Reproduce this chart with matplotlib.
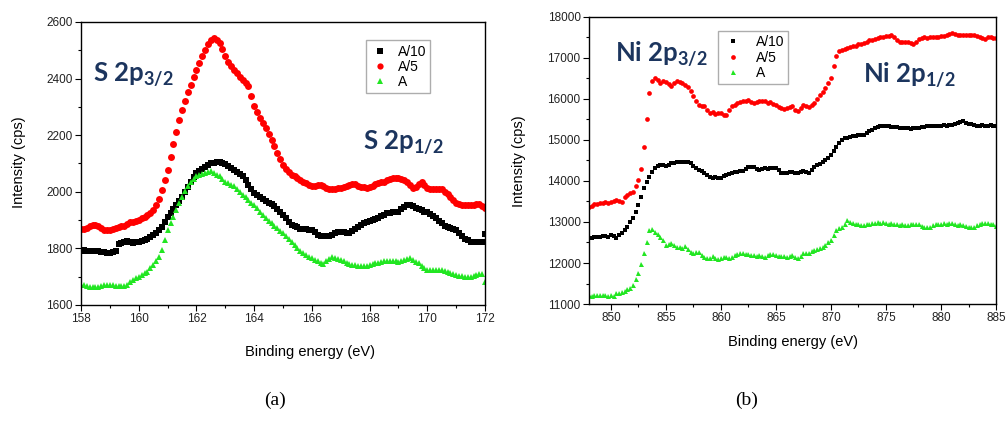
import numpy as np
import matplotlib.pyplot as plt
from matplotlib.ticker import MultipleLocator

plt.rcParams['font.family'] = ['Liberation Sans', 'DejaVu Sans']
plt.rcParams['mathtext.fontset'] = 'custom'
plt.rcParams['mathtext.rm'] = 'Lato:bold'
plt.rcParams['mathtext.it'] = 'Lato:bold'
plt.rcParams['mathtext.bf'] = 'Lato:bold'

# ---- (a) S 2p region, 158-172 eV, 0.1 eV step ----
e_s = np.round(np.arange(158.0, 172.05, 0.1), 1)

s_a10 = [1792, 1794, 1792, 1790, 1792, 1792, 1790, 1788, 1786, 1785,
         1785, 1787, 1789, 1815, 1820, 1824, 1826, 1822, 1820, 1822,
         1824, 1826, 1829, 1832, 1840, 1848, 1856, 1865, 1875, 1894,
         1912, 1926, 1940, 1954, 1968, 1983, 2000, 2018, 2036, 2051,
         2066, 2074, 2082, 2089, 2096, 2101, 2103, 2104, 2104, 2102,
         2099, 2092, 2085, 2078, 2070, 2062, 2054, 2040, 2025, 2010,
         1995, 1988, 1981, 1974, 1968, 1962, 1957, 1948, 1938, 1928,
         1918, 1906, 1894, 1883, 1878, 1874, 1870, 1869, 1868, 1866,
         1865, 1857, 1849, 1842, 1842, 1843, 1844, 1849, 1854, 1859,
         1858, 1857, 1856, 1856, 1863, 1870, 1877, 1882, 1888, 1893,
         1897, 1900, 1904, 1907, 1913, 1919, 1924, 1926, 1928, 1929,
         1930, 1938, 1946, 1954, 1952, 1950, 1944, 1939, 1934, 1930,
         1927, 1920, 1913, 1907, 1898, 1889, 1880, 1876, 1872, 1868,
         1865, 1854, 1843, 1832, 1828, 1824, 1821, 1821, 1821, 1821,
         1850]

s_a5 = [1868, 1870, 1872, 1878, 1882, 1883, 1878, 1872, 1866, 1864,
        1865, 1868, 1872, 1876, 1878, 1880, 1886, 1892, 1894, 1896,
        1900, 1906, 1912, 1918, 1926, 1936, 1952, 1975, 2007, 2042,
        2078, 2124, 2170, 2212, 2252, 2290, 2322, 2352, 2378, 2405,
        2431, 2456, 2480, 2502, 2522, 2537, 2543, 2538, 2525, 2504,
        2478, 2460, 2444, 2431, 2418, 2405, 2396, 2386, 2372, 2338,
        2302, 2282, 2262, 2243, 2224, 2204, 2184, 2160, 2137, 2116,
        2095, 2082, 2070, 2060, 2054, 2048, 2042, 2036, 2030, 2024,
        2019, 2022, 2025, 2025, 2020, 2014, 2010, 2009, 2010, 2012,
        2013, 2016, 2020, 2024, 2027, 2027, 2022, 2018, 2016, 2015,
        2016, 2022, 2028, 2032, 2034, 2036, 2040, 2044, 2047, 2048,
        2048, 2044, 2040, 2036, 2024, 2013, 2018, 2028, 2033, 2024,
        2013, 2010, 2010, 2011, 2010, 2009, 2000, 1992, 1983, 1972,
        1960, 1956, 1954, 1954, 1955, 1954, 1955, 1957, 1957, 1950,
        1942]

s_a = [1671, 1670, 1668, 1665, 1663, 1662, 1664, 1667, 1669, 1671,
       1671, 1670, 1668, 1666, 1666, 1667, 1672, 1680, 1688, 1694,
       1700, 1706, 1712, 1718, 1730, 1742, 1756, 1771, 1795, 1830,
       1865, 1888, 1912, 1936, 1960, 1983, 2001, 2019, 2036, 2045,
       2054, 2058, 2062, 2066, 2071, 2075, 2068, 2061, 2054, 2045,
       2036, 2030, 2025, 2019, 2009, 1999, 1989, 1980, 1971, 1962,
       1954, 1942, 1930, 1918, 1908, 1898, 1889, 1880, 1871, 1862,
       1854, 1844, 1834, 1824, 1812, 1800, 1789, 1783, 1777, 1771,
       1765, 1760, 1755, 1750, 1745, 1754, 1763, 1771, 1767, 1763,
       1759, 1755, 1750, 1746, 1742, 1740, 1738, 1737, 1736, 1739,
       1742, 1745, 1747, 1750, 1753, 1755, 1757, 1756, 1755, 1754,
       1753, 1756, 1759, 1762, 1765, 1759, 1753, 1747, 1739, 1731,
       1724, 1724, 1724, 1725, 1724, 1724, 1720, 1716, 1712, 1709,
       1706, 1704, 1702, 1700, 1699, 1698, 1702, 1706, 1710, 1711,
       1680]

# ---- (b) Ni 2p region, 848-885 eV, 0.25 eV step ----
e_ni = np.arange(848.0, 885.01, 0.25)

ni_a10 = [12603, 12620, 12640, 12630, 12627, 12650, 12660, 12640,
          12676, 12650, 12603, 12680, 12725, 12800, 12888, 12990,
          13091, 13250, 13417, 13620, 13823, 13980, 14108, 14220,
          14312, 14370, 14393, 14380, 14377, 14400, 14434, 14450,
          14475, 14460, 14458, 14470, 14475, 14430, 14369, 14320,
          14271, 14240, 14206, 14150, 14108, 14080, 14090, 14070,
          14068, 14110, 14149, 14170, 14190, 14220, 14210, 14240,
          14255, 14300, 14352, 14345, 14336, 14300, 14271, 14290,
          14312, 14300, 14320, 14310, 14312, 14260, 14206, 14190,
          14190, 14210, 14230, 14200, 14190, 14220, 14255, 14230,
          14206, 14280, 14352, 14390, 14417, 14460, 14515, 14570,
          14637, 14740, 14840, 14930, 15003, 15040, 15060, 15070,
          15085, 15100, 15110, 15120, 15125, 15170, 15207, 15250,
          15288, 15320, 15330, 15340, 15345, 15330, 15320, 15315,
          15312, 15300, 15290, 15295, 15288, 15270, 15280, 15290,
          15288, 15310, 15320, 15330, 15329, 15340, 15330, 15340,
          15345, 15360, 15350, 15360, 15370, 15400, 15420, 15440,
          15451, 15420, 15400, 15380, 15370, 15340, 15350, 15360,
          15345, 15330, 15360, 15340, 15345]

ni_a5 = [13360, 13400, 13430, 13450, 13457, 13470, 13480, 13470,
         13498, 13520, 13539, 13510, 13498, 13600, 13661, 13700,
         13742, 13880, 14027, 14300, 14840, 15500, 16142, 16440,
         16508, 16460, 16386, 16430, 16403, 16360, 16321, 16380,
         16427, 16410, 16386, 16340, 16289, 16200, 16061, 15950,
         15858, 15840, 15817, 15720, 15654, 15680, 15640, 15660,
         15654, 15620, 15614, 15720, 15817, 15860, 15900, 15920,
         15939, 15960, 15980, 15930, 15898, 15920, 15939, 15960,
         15939, 15900, 15920, 15880, 15858, 15810, 15776, 15760,
         15776, 15800, 15817, 15740, 15695, 15790, 15858, 15820,
         15800, 15850, 15898, 16000, 16101, 16180, 16264, 16380,
         16508, 16800, 17040, 17160, 17200, 17230, 17250, 17270,
         17282, 17300, 17330, 17350, 17363, 17400, 17430, 17450,
         17460, 17480, 17500, 17510, 17526, 17540, 17566, 17500,
         17444, 17400, 17379, 17390, 17379, 17360, 17347, 17400,
         17460, 17480, 17500, 17490, 17509, 17500, 17520, 17515,
         17526, 17540, 17560, 17590, 17607, 17580, 17560, 17570,
         17566, 17550, 17560, 17570, 17566, 17530, 17500, 17480,
         17460, 17500, 17520, 17480, 17485]

ni_a = [11220, 11200, 11210, 11230, 11220, 11210, 11230, 11200,
        11220, 11190, 11260, 11280, 11301, 11320, 11358, 11400,
        11464, 11600, 11749, 11980, 12237, 12520, 12806, 12823,
        12766, 12700, 12644, 12560, 12440, 12460, 12481, 12430,
        12400, 12380, 12359, 12420, 12334, 12280, 12237, 12260,
        12277, 12200, 12155, 12130, 12115, 12160, 12130, 12100,
        12115, 12140, 12155, 12130, 12155, 12200, 12230, 12250,
        12237, 12210, 12230, 12200, 12196, 12170, 12190, 12175,
        12155, 12190, 12220, 12210, 12196, 12170, 12180, 12160,
        12155, 12180, 12196, 12150, 12115, 12180, 12237, 12240,
        12253, 12290, 12310, 12330, 12359, 12400, 12440, 12500,
        12562, 12690, 12806, 12850, 12888, 12960, 13050, 12990,
        12969, 12940, 12950, 12930, 12928, 12950, 12960, 12975,
        12969, 13000, 12980, 12990, 12985, 12960, 12970, 12940,
        12953, 12930, 12945, 12920, 12928, 12950, 12960, 12940,
        12953, 12910, 12888, 12870, 12888, 12920, 12950, 12940,
        12953, 12980, 12960, 12970, 12969, 12940, 12930, 12950,
        12928, 12900, 12880, 12871, 12871, 12920, 12960, 12985,
        12985, 12970, 12940, 12960, 12904]

labels = ['A/10', 'A/5', 'A']
colors = ['black', '#ff0000', '#22e622']
navy = '#1c355e'

fig = plt.figure(figsize=(10.08, 4.24), dpi=100)
ax1 = fig.add_axes([0.0804, 0.2807, 0.4008, 0.6675])
ax2 = fig.add_axes([0.5843, 0.2830, 0.4038, 0.6770])

ax1.plot(e_s, s_a10, 's', color=colors[0], ms=4.6, mew=0, label=labels[0])
ax1.plot(e_s, s_a5, 'o', color=colors[1], ms=5.0, mew=0, label=labels[1])
ax1.plot(e_s, s_a, '^', color=colors[2], ms=5.0, mew=0, label=labels[2])
ax1.set_xlim(158, 172)
ax1.set_ylim(1600, 2600)
ax1.xaxis.set_major_locator(MultipleLocator(2))
ax1.xaxis.set_minor_locator(MultipleLocator(1))
ax1.yaxis.set_major_locator(MultipleLocator(200))
ax1.yaxis.set_minor_locator(MultipleLocator(100))

ax2.plot(e_ni, ni_a10, 's', color=colors[0], ms=3.2, mew=0, label=labels[0])
ax2.plot(e_ni, ni_a5, 'o', color=colors[1], ms=3.4, mew=0, label=labels[1])
ax2.plot(e_ni, ni_a, '^', color=colors[2], ms=3.6, mew=0, label=labels[2])
ax2.set_xlim(848, 885)
ax2.set_ylim(11000, 18000)
ax2.xaxis.set_major_locator(MultipleLocator(5))
ax2.xaxis.set_minor_locator(MultipleLocator(2.5))
ax2.yaxis.set_major_locator(MultipleLocator(1000))
ax2.yaxis.set_minor_locator(MultipleLocator(500))

for ax in (ax1, ax2):
    ax.tick_params(which='major', length=4, width=0.8, labelsize=8.5, pad=2,
                   labelcolor='#222222')
    ax.tick_params(which='minor', length=2.5, width=0.8)
    for sp in ax.spines.values():
        sp.set_linewidth(1.0)

leg1 = ax1.legend(loc='upper left', bbox_to_anchor=(0.705, 0.935), fontsize=10,
                  frameon=True, fancybox=False, edgecolor='#999999',
                  borderpad=0.3, labelspacing=0.1, handletextpad=0.6,
                  handlelength=1.4, markerscale=0.9, borderaxespad=0)
leg1.get_frame().set_linewidth(1.0)
leg2 = ax2.legend(loc='upper left', bbox_to_anchor=(0.317, 0.951), fontsize=10,
                  frameon=True, fancybox=False, edgecolor='#999999',
                  borderpad=0.3, labelspacing=0.1, handletextpad=0.8,
                  handlelength=1.6, markerscale=1.0, borderaxespad=0)
leg2.get_frame().set_linewidth(1.0)

ann = dict(color=navy, fontsize=18.5, va='baseline', ha='left',
           family='Lato', fontweight='bold')
ax1.text(158.42, 2388, r'S 2p$_{\rm 3/2}$', **ann)
ax1.text(167.77, 2148, r'S 2p$_{\rm 1/2}$', **ann)
ax2.text(850.36, 16900, r'Ni 2p$_{\rm 3/2}$', **ann)
ax2.text(872.9, 16390, r'Ni 2p$_{\rm 1/2}$', **ann)

fig.text(19 / 1008, 1 - 162 / 424, 'Intensity (cps)', rotation=90,
         ha='center', va='center', fontsize=10.5)
fig.text(519 / 1008, 1 - 161 / 424, 'Intensity (cps)', rotation=90,
         ha='center', va='center', fontsize=10.5)
fig.text(310 / 1008, 1 - 352 / 424, 'Binding energy (eV)',
         ha='center', va='center', fontsize=10.5)
fig.text(793 / 1008, 1 - 342 / 424, 'Binding energy (eV)',
         ha='center', va='center', fontsize=10.5)
fig.text(275 / 1008, 1 - 400 / 424, '(a)', ha='center', va='center',
         fontsize=14, family='Liberation Serif')
fig.text(747 / 1008, 1 - 400 / 424, '(b)', ha='center', va='center',
         fontsize=14, family='Liberation Serif')

fig.savefig('out.png', dpi=100)
